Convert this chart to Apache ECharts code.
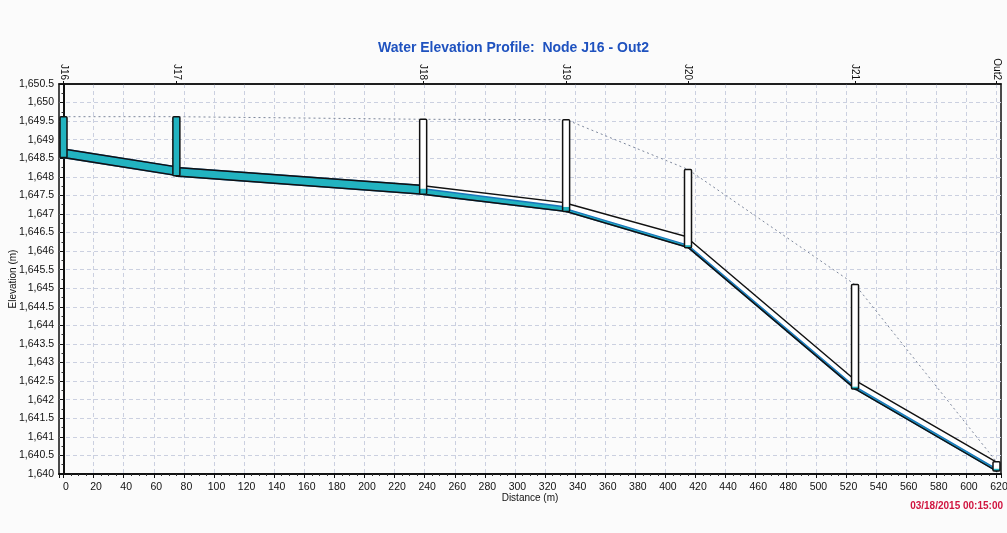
<!DOCTYPE html>
<html>
<head>
<meta charset="utf-8">
<title>Water Elevation Profile</title>
<script src="https://cdn.jsdelivr.net/npm/echarts@6/dist/echarts.min.js"></script>
<style>
  html, body { margin: 0; padding: 0; background: #fbfbfb; }
  #chart { width: 1007px; height: 533px; }
</style>
</head>
<body>
<div id="chart"></div>
<script>
// Nodes along the profile (distance in m, elevations in m)
const nodeNames  = ['J16', 'J17', 'J18', 'J19', 'J20', 'J21', 'Out2'];
const nodeDist   = [0, 75, 239, 334, 415, 526, 620];
const nodeInvert = [1648.52, 1648.03, 1647.53, 1647.07, 1646.09, 1642.29, 1640.08];
const nodeRim    = [1649.62, 1649.62, 1649.55, 1649.54, 1648.20, 1645.10, 1640.33];
const nodeWater  = [1649.62, 1649.62, 1647.68, 1647.19, 1646.16, 1642.35, 1640.14];

// Conduits between consecutive nodes (upstream / downstream ends)
const pipeUpInvert = [1648.52, 1648.02, 1647.53, 1647.07, 1646.10, 1642.29];
const pipeDnInvert = [1648.04, 1647.53, 1647.07, 1646.10, 1642.29, 1640.08];
const pipeUpCrown  = [1648.75, 1648.25, 1647.76, 1647.29, 1646.34, 1642.52];
const pipeDnCrown  = [1648.27, 1647.77, 1647.30, 1646.38, 1642.53, 1640.32];
const pipeUpWater  = [1648.75, 1648.25, 1647.68, 1647.14, 1646.16, 1642.35];
const pipeDnWater  = [1648.27, 1647.77, 1647.19, 1646.16, 1642.35, 1640.14];

// Plotted distance range (a little margin either side of the first/last node)
const distMin = -3;
const distMax = 623;

const timeStamp = '03/18/2015 00:15:00';

const FONT = 'Arial, "Liberation Sans", sans-serif';
const WATER = '#22b3c0';
const WATER_EDGE = '#1a76bb';

const pipeData = pipeUpInvert.map((_, i) => [
  nodeDist[i], nodeDist[i + 1],
  pipeUpInvert[i], pipeDnInvert[i],
  pipeUpCrown[i], pipeDnCrown[i],
  pipeUpWater[i], pipeDnWater[i]
]);
const nodeData = nodeNames.map((n, i) => [nodeDist[i], nodeInvert[i], nodeRim[i], nodeWater[i]]);
const groundData = nodeNames.map((n, i) => [nodeDist[i], nodeRim[i]]);

function fmtElev(v) {
  return v.toLocaleString('en-US', { maximumFractionDigits: 1 });
}

function renderPipe(params, api) {
  const x0 = api.value(0), x1 = api.value(1);
  const inv0 = api.coord([x0, api.value(2)]), inv1 = api.coord([x1, api.value(3)]);
  const cr0 = api.coord([x0, api.value(4)]), cr1 = api.coord([x1, api.value(5)]);
  const w0 = api.coord([x0, api.value(6)]), w1 = api.coord([x1, api.value(7)]);
  return {
    type: 'group',
    children: [
      { type: 'polygon', shape: { points: [cr0, cr1, inv1, inv0] },
        style: { fill: '#ffffff', stroke: null } },
      { type: 'polygon', shape: { points: [w0, w1, inv1, inv0] },
        style: { fill: WATER, stroke: WATER_EDGE, lineWidth: 1.4 } },
      { type: 'polygon', shape: { points: [cr0, cr1, inv1, inv0] },
        style: { fill: null, stroke: '#111', lineWidth: 1.5 } }
    ]
  };
}

function renderNode(params, api) {
  const x = api.value(0);
  const bot = api.coord([x, api.value(1)]);
  const top = api.coord([x, api.value(2)]);
  const wat = api.coord([x, api.value(3)]);
  const w = 7;
  const left = bot[0] - w / 2;
  return {
    type: 'group',
    children: [
      { type: 'rect', shape: { x: left, y: top[1], width: w, height: bot[1] - top[1] },
        style: { fill: '#ffffff', stroke: null } },
      { type: 'rect', shape: { x: left, y: wat[1], width: w, height: bot[1] - wat[1] },
        style: { fill: WATER, stroke: null } },
      { type: 'rect', shape: { x: left, y: top[1], width: w, height: bot[1] - top[1], r: 1 },
        style: { fill: null, stroke: '#111', lineWidth: 1.5 } }
    ]
  };
}

const chart = echarts.init(document.getElementById('chart'), null, { renderer: 'canvas' });

chart.setOption({
  backgroundColor: '#fbfbfb',
  animation: false,
  title: {
    text: 'Water Elevation Profile:  Node J16 - Out2',
    left: 373,
    top: 36,
    textStyle: { color: '#1f52bf', fontSize: 14, fontWeight: 'bold', fontFamily: FONT }
  },
  grid: {
    left: 59, right: 6, top: 84, bottom: 59,
    outerBoundsMode: 'none',
    containLabel: false,
    show: true, borderColor: '#111', borderWidth: 1.5, backgroundColor: 'transparent'
  },
  xAxis: [
    {
      type: 'value', position: 'bottom', min: distMin, max: distMax,
      splitNumber: 31, minInterval: 20, maxInterval: 20,
      name: 'Distance (m)', nameLocation: 'middle', nameGap: 19,
      nameMoveOverlap: false,
      nameTextStyle: { fontSize: 10, color: '#111', fontFamily: FONT },
      axisLine: { show: true, lineStyle: { color: '#111', width: 2 } },
      axisTick: { show: true, length: 4, lineStyle: { color: '#111' } },
      minorTick: { show: true, splitNumber: 4, length: 2, lineStyle: { color: '#333' } },
      axisLabel: {
        fontSize: 10.5, color: '#111', margin: 8, fontFamily: FONT,
        padding: [0, 0, 0, 5],
        showMinLabel: false, showMaxLabel: false
      },
      splitLine: {
        show: true, showMinLine: false, showMaxLine: false,
        lineStyle: { color: '#cbd0e0', type: [4, 3], width: 1 }
      }
    },
    {
      type: 'value', position: 'top', min: distMin, max: distMax,
      axisLine: { show: true, lineStyle: { color: '#111', width: 1.5 } },
      axisTick: { show: true, length: 3, customValues: nodeDist, lineStyle: { color: '#111' } },
      axisLabel: {
        customValues: nodeDist, rotate: 90, margin: 4,
        fontSize: 10, color: '#111', fontFamily: FONT,
        formatter: v => nodeNames[nodeDist.indexOf(v)] || ''
      },
      splitLine: { show: false }
    }
  ],
  yAxis: [
    {
      type: 'value', position: 'left', min: 1640, max: 1650.5, interval: 0.5,
      name: 'Elevation (m)', nameLocation: 'middle', nameGap: 41,
      nameMoveOverlap: false,
      nameTextStyle: { fontSize: 10, color: '#111', fontFamily: FONT },
      axisLine: { show: true, lineStyle: { color: '#111', width: 2 } },
      axisTick: { show: true, length: 4, lineStyle: { color: '#111' } },
      minorTick: { show: true, splitNumber: 2, length: 2, lineStyle: { color: '#333' } },
      axisLabel: { fontSize: 10.5, color: '#111', margin: 5, fontFamily: FONT, formatter: fmtElev },
      splitLine: { show: true, showMaxLine: false, lineStyle: { color: '#cbd0e0', type: [4, 3], width: 1 } }
    },
    {
      // right-hand frame edge
      type: 'value', position: 'right', min: 1640, max: 1650.5,
      axisLine: { show: true, lineStyle: { color: '#111', width: 1.5 } },
      axisTick: { show: false },
      axisLabel: { show: false },
      splitLine: { show: false }
    }
  ],
  graphic: [
    {
      type: 'text', right: 4, top: 501,
      style: { text: timeStamp, fill: '#d0143f', font: 'bold 10px ' + FONT }
    }
  ],
  series: [
    {
      name: 'Ground',
      type: 'line',
      data: groundData,
      symbol: 'none',
      lineStyle: { color: '#7d879c', width: 1, type: [2, 3] },
      z: 2
    },
    {
      name: 'Conduits',
      type: 'custom',
      renderItem: renderPipe,
      data: pipeData,
      encode: { x: [0, 1], y: [2, 3, 4, 5, 6, 7] },
      clip: false,
      z: 3
    },
    {
      name: 'Nodes',
      type: 'custom',
      renderItem: renderNode,
      data: nodeData,
      encode: { x: 0, y: [1, 2, 3] },
      clip: false,
      z: 4
    }
  ]
});
</script>
</body>
</html>
